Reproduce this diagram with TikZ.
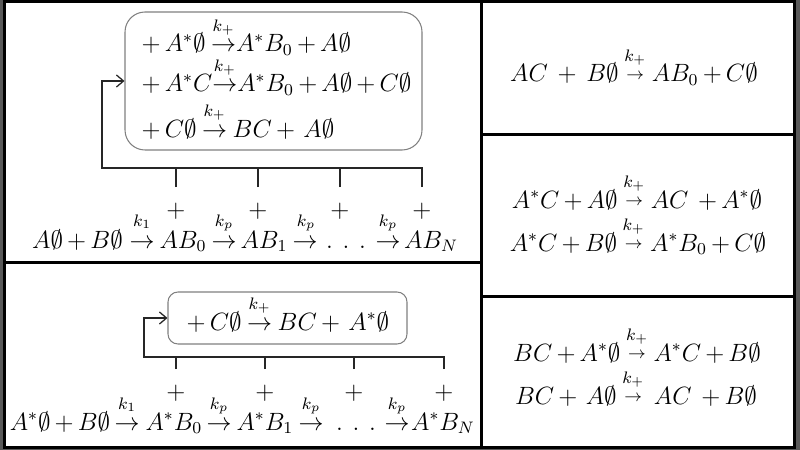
\documentclass[tikz,border=0pt]{standalone}
\usepackage{amsmath,amssymb}
\usetikzlibrary{arrows.meta}
\medmuskip=3mu plus 2mu minus 3mu
\thickmuskip=4mu plus 3mu
\newcommand{\kplus}{\mathrel{\overset{\raisebox{3.2pt}{$\scriptstyle k_+$}}{\rightarrow}}}
\newcommand{\kpsmall}{\mathrel{\overset{\raisebox{3.6pt}{$\scriptstyle k_+$}}{\raisebox{1pt}{$\scriptstyle\rightarrow$}}}}
\newcommand{\nothk}{\mskip-\thickmuskip}
\newcommand{\tdots}{.\mkern7mu.\mkern7mu.}
\tikzset{
  panel/.style={line width=1.44pt},
  eq/.style={inner sep=0pt, font=\fontsize{12}{14}\selectfont},
  rboxa/.style={draw=black!50, line width=0.5pt, rounded corners=9.6pt, inner sep=0pt},
  rboxb/.style={draw=black!50, line width=0.5pt, rounded corners=4.8pt, inner sep=0pt},
  feed/.style={draw=black!85, line width=0.6pt},
  feedarrow/.style={feed, -{Straight Barb[length=3.4pt,width=5.8pt]}},
}
\begin{document}
\begin{tikzpicture}[x=0.48pt,y=-0.48pt]
\useasboundingbox (0,0) rectangle (800,450);
\fill[black!65] (0,0) rectangle (800,450);
\draw[panel, fill=white] (4.5,1.5) rectangle (794.5,447.5);
\draw[panel] (481.5,1.5) -- (481.5,447.5);
\draw[panel] (4.5,262) -- (481.5,262);
\draw[panel] (481.5,134.7) -- (794.5,134.7);
\draw[panel] (481.5,296) -- (794.5,296);

% ---------- top-left panel ----------
\node[rboxa, minimum width=142.56pt, minimum height=66.24pt] (box1) at (273.5,81) {};
\node[eq, anchor=base west] (r1) at (137,52) {${}+{}A^*\emptyset\kplus\nothk A^*B_0+A\emptyset$};
\node[eq, anchor=base west] (r2) at (137,92) {${}+{}A^*C\nothk\kplus\nothk A^*B_0+A\emptyset+C\emptyset$};
\node[eq, anchor=base west] (r3) at (137,137) {${}+{}C\emptyset\kplus BC+\,A\emptyset$};

\node[eq, anchor=base] (s0) at (77.5,248) {$A\emptyset+B\emptyset$};
\node[eq, anchor=base] (a1) at (142,248) {$\rightarrow$};
\node[eq, anchor=base] (k1) at (142,226) {$\scriptstyle k_1$};
\node[eq, anchor=base] (s1) at (183,248) {$AB_0$};
\node[eq, anchor=base] (a2) at (224,248) {$\rightarrow$};
\node[eq, anchor=base] (k2) at (224,226) {$\scriptstyle k_p$};
\node[eq, anchor=base] (s2) at (264,248) {$AB_1$};
\node[eq, anchor=base] (a3) at (305,248) {$\rightarrow$};
\node[eq, anchor=base] (k3) at (306,226) {$\scriptstyle k_p$};
\node[eq, anchor=base] (dots1) at (346,248) {$\tdots$};
\node[eq, anchor=base] (a4) at (388,248) {$\rightarrow$};
\node[eq, anchor=base] (k4) at (388,226) {$\scriptstyle k_p$};
\node[eq, anchor=base] (s3) at (431,248) {$AB_N$};

\node[eq] (p1) at (176,211) {$+$};
\node[eq] (p2) at (258,211) {$+$};
\node[eq] (p3) at (340,211) {$+$};
\node[eq] (p4) at (422,211) {$+$};

\coordinate (c1) at (102,168);
\coordinate (d1) at (176,187);
\coordinate (d2) at (258,187);
\coordinate (d3) at (340,187);
\coordinate (d4) at (422,187);
\draw[feed] (d1) -- (d1 |- c1);
\draw[feed] (d2) -- (d2 |- c1);
\draw[feed] (d3) -- (d3 |- c1);
\draw[feedarrow] (d4) |- (c1) |- (box1.west);

% ---------- bottom-left panel ----------
\node[rboxb, minimum width=114.72pt, minimum height=24.96pt] (box2) at (287.5,318) {};
\node[eq, anchor=base west] (r4) at (182,330) {${}+{}C\emptyset\kplus BC+\,A^*\emptyset$};

\node[eq, anchor=base] (t0) at (60,430) {$A^*\emptyset+B\emptyset$};
\node[eq, anchor=base] (b1) at (127,430) {$\rightarrow$};
\node[eq, anchor=base] (m1) at (127,409) {$\scriptstyle k_1$};
\node[eq, anchor=base] (t1) at (174,430) {$A^*B_0$};
\node[eq, anchor=base] (b2) at (219,430) {$\rightarrow$};
\node[eq, anchor=base] (m2) at (219,409) {$\scriptstyle k_p$};
\node[eq, anchor=base] (t2) at (265,430) {$A^*B_1$};
\node[eq, anchor=base] (b3) at (311,430) {$\rightarrow$};
\node[eq, anchor=base] (m3) at (311,409) {$\scriptstyle k_p$};
\node[eq, anchor=base] (dots2) at (356,430) {$\tdots$};
\node[eq, anchor=base] (b4) at (397,430) {$\rightarrow$};
\node[eq, anchor=base] (m4) at (397,409) {$\scriptstyle k_p$};
\node[eq, anchor=base] (t3) at (443,430) {$A^*B_N$};

\node[eq] (q1) at (176,393) {$+$};
\node[eq] (q2) at (265,393) {$+$};
\node[eq] (q3) at (354,393) {$+$};
\node[eq] (q4) at (444,393) {$+$};

\coordinate (c2) at (144,357);
\coordinate (e1) at (176,369);
\coordinate (e2) at (265,369);
\coordinate (e3) at (354,369);
\coordinate (e4) at (444,369);
\draw[feed] (e1) -- (e1 |- c2);
\draw[feed] (e2) -- (e2 |- c2);
\draw[feed] (e3) -- (e3 |- c2);
\draw[feedarrow] (e4) |- (c2) |- (box2.west);

% ---------- right panels ----------
\node[eq, anchor=base] (u1) at (634,82) {$AC\;+\;B\emptyset\kpsmall AB_0+C\emptyset$};
\node[eq, anchor=base] (u2) at (637,208) {$A^*C+A\emptyset\kpsmall AC\;+A^*\emptyset$};
\node[eq, anchor=base] (u3) at (638,251) {$A^*C+B\emptyset\kpsmall A^*B_0+C\emptyset$};
\node[eq, anchor=base] (u4) at (637,361) {$BC+A^*\emptyset\kpsmall A^*C+B\emptyset$};
\node[eq, anchor=base] (u5) at (636,404) {$BC+\,A\emptyset\kpsmall\,AC\;+B\emptyset$};
\end{tikzpicture}
\end{document}
